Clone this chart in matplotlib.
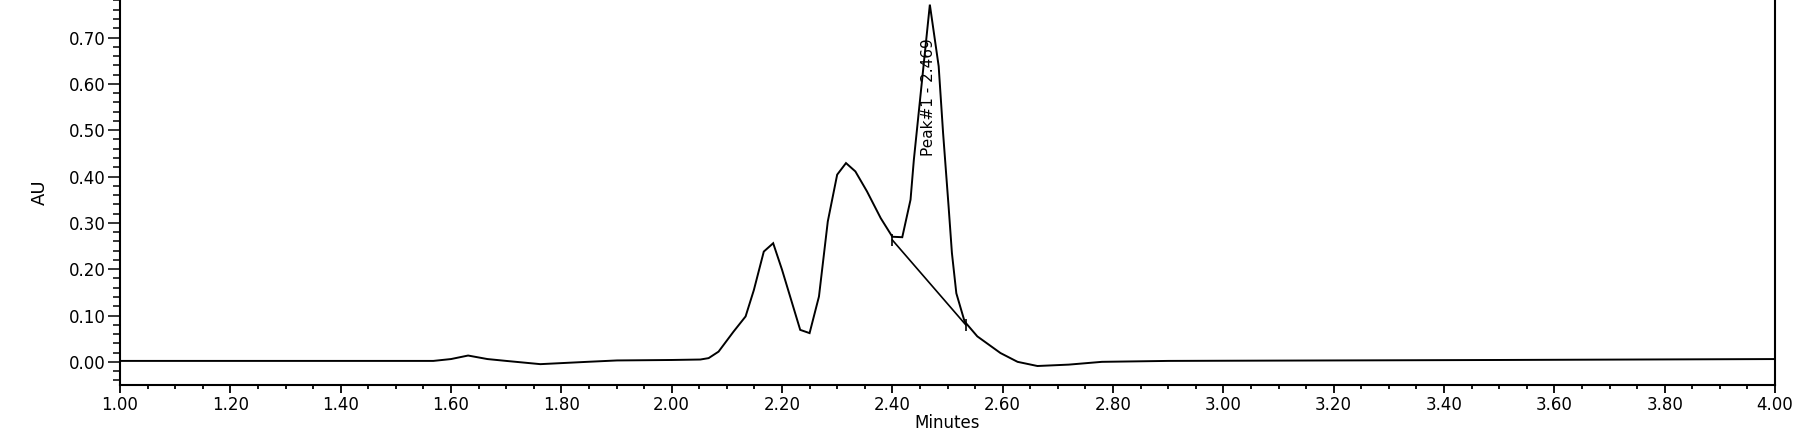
import matplotlib.pyplot as plt
from matplotlib.ticker import MultipleLocator, FormatStrFormatter

# chromatogram trace (minutes, AU)
minutes = [1.00, 1.30, 1.568, 1.600, 1.631, 1.666, 1.700, 1.762, 1.847, 1.901,
           2.000, 2.052, 2.067, 2.085, 2.112, 2.134, 2.149, 2.167, 2.184, 2.200,
           2.233, 2.250, 2.267, 2.283, 2.300, 2.316, 2.333, 2.354, 2.379, 2.400,
           2.418, 2.433, 2.439, 2.468, 2.484, 2.492, 2.502, 2.508, 2.516, 2.531,
           2.554, 2.596, 2.627, 2.663, 2.720, 2.780, 2.900, 3.500, 4.000]
au = [0.002, 0.002, 0.002, 0.006, 0.0136, 0.006, 0.002, -0.005, 0.000, 0.003,
      0.004, 0.005, 0.008, 0.022, 0.065, 0.098, 0.155, 0.238, 0.256, 0.199,
      0.069, 0.062, 0.141, 0.303, 0.404, 0.429, 0.411, 0.368, 0.310, 0.270,
      0.269, 0.350, 0.436, 0.771, 0.638, 0.494, 0.335, 0.235, 0.148, 0.087,
      0.055, 0.019, 0.000, -0.009, -0.006, 0.000, 0.002, 0.004, 0.006]

# integration baseline of peak 1
base_x = [2.400, 2.533]
base_y = [0.263, 0.080]

peak_label = "Peak#1 - 2.469"
peak_x = 2.466
peak_y = 0.445

W, H = 1801, 443
fig = plt.figure(figsize=(W / 100, H / 100), dpi=100)
ax = fig.add_axes([120 / W, 1 - 385 / H, (1775 - 120) / W, 385 / H])

ax.plot(minutes, au, color='black', lw=1.4, solid_joinstyle='miter')
ax.plot(base_x, base_y, color='black', lw=1.2, marker='|', markersize=9, mew=1.2)
ax.text(peak_x, peak_y, peak_label, rotation=90, ha='center', va='bottom',
        fontsize=11)

ax.set_xlim(1.0, 4.0)
ax.set_ylim(-0.05, 0.781)

ax.xaxis.set_major_locator(MultipleLocator(0.2))
ax.xaxis.set_minor_locator(MultipleLocator(0.05))
ax.yaxis.set_major_locator(MultipleLocator(0.1))
ax.yaxis.set_minor_locator(MultipleLocator(0.02))
ax.xaxis.set_major_formatter(FormatStrFormatter('%.2f'))
ax.yaxis.set_major_formatter(FormatStrFormatter('%.2f'))

ax.tick_params(axis='x', which='major', direction='out', length=6, width=1.3,
               labelsize=12, pad=2)
ax.tick_params(axis='x', which='minor', direction='out', length=3, width=1.3)
ax.tick_params(axis='y', which='major', direction='out', length=8.5, width=1.1,
               labelsize=12, pad=2)
ax.tick_params(axis='y', which='minor', direction='out', length=5, width=1.1)

for s in ['left', 'bottom', 'right']:
    ax.spines[s].set_linewidth(1.5)
ax.spines['top'].set_visible(False)

ax.set_xlabel('Minutes', fontsize=12, labelpad=0)
ax.set_ylabel('AU', fontsize=13, labelpad=14)

fig.savefig('out.png', dpi=100)
